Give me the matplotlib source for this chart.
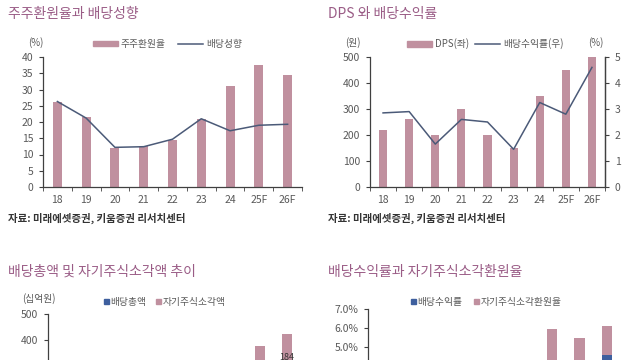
import matplotlib.pyplot as plt
import numpy as np
from matplotlib.patches import Rectangle
from matplotlib.lines import Line2D

plt.rcParams['font.family'] = ['Noto Sans CJK KR', 'DejaVu Sans']

# 데이터
years = ['18', '19', '20', '21', '22', '23', '24', '25F', '26F']
return_ratio = [26.2, 21.5, 12.0, 12.5, 14.5, 21.0, 31.2, 37.5, 34.5]   # 주주환원율
payout_ratio = [26.3, 21.2, 12.2, 12.4, 14.7, 21.0, 17.3, 19.0, 19.3]   # 배당성향
dps = [220, 260, 200, 300, 200, 150, 350, 450, 500]                     # DPS(원)
div_yield = [2.85, 2.9, 1.65, 2.6, 2.5, 1.45, 3.25, 2.8, 4.6]           # 배당수익률(%)
div_total = [150, 170, 130, 190, 130, 100, 200, 220, 239]               # 배당총액(십억원)
buyback = [0, 50, 0, 50, 0, 60, 110, 157, 184]                         # 자기주식소각액
buyback_ratio = [0.0, 0.6, 0.0, 0.7, 0.0, 0.9, 2.7, 2.7, 1.5]           # 자기주식소각환원율(%)

W, H = 640, 360
bar_c = '#c0909f'
line_c = '#4b5a78'
blue_c = '#3e5f9e'
title_c = '#9a5c86'
tick_c = '#595959'
spine_c = '#404040'
x = np.arange(len(years))

fig = plt.figure(figsize=(6.4, 3.6), dpi=100)


def add_ax(left, right, top, bottom):
    return fig.add_axes([left / W, (H - bottom) / H, (right - left) / W, (bottom - top) / H])


def style(ax, right_spine=False):
    ax.spines['top'].set_visible(False)
    ax.spines['right'].set_visible(right_spine)
    for s in ['left', 'bottom', 'right']:
        ax.spines[s].set_color(spine_c)
        ax.spines[s].set_linewidth(0.9)
    ax.tick_params(axis='y', direction='out', length=3, color=spine_c, labelsize=7.5, labelcolor=tick_c, pad=4)
    ax.tick_params(axis='x', which='major', length=0, labelsize=7.5, labelcolor=tick_c, pad=6)
    ax.set_xticks(x)
    ax.set_xticklabels(years)
    ax.set_xticks(np.arange(-0.5, len(years), 1), minor=True)
    ax.tick_params(axis='x', which='minor', direction='out', length=3, color=spine_c)


def px(xp, yp, s, **kw):
    fig.text(xp / W, (H - yp) / H, s, **kw)


# 주주환원율과 배당성향
px(8, 14, '주주환원율과 배당성향', fontsize=10, color=title_c, va='center')
ax1 = add_ax(43, 302, 57, 187)
ax1.bar(x, return_ratio, width=0.31, color=bar_c)
ax1.plot(x, payout_ratio, color=line_c, lw=1.1)
ax1.set_xlim(-0.5, len(years) - 0.5)
ax1.set_ylim(0, 40)
ax1.set_yticks(range(0, 41, 5))
style(ax1)
px(28, 43, '(%)', fontsize=7, color=tick_c, va='center')
fig.legend([Rectangle((0, 0), 1, 1, color=bar_c), Line2D([], [], color=line_c, lw=1.1)],
           ['주주환원율', '배당성향'], loc='center left', bbox_to_anchor=(84 / W, (H - 44) / H),
           ncol=2, frameon=False, fontsize=7, handlelength=2.6, handleheight=0.5,
           handletextpad=0.3, columnspacing=1.2, labelcolor=tick_c)
px(8, 218, '자료: 미래에셋증권, 키움증권 리서치센터', fontsize=7.5, color='#333333', va='center', fontweight='bold')

# DPS 와 배당수익률
px(328, 14, 'DPS 와 배당수익률', fontsize=10, color=title_c, va='center')
ax2 = add_ax(370, 605, 57, 187)
ax2.bar(x, dps, width=0.31, color=bar_c)
ax2.set_xlim(-0.5, len(years) - 0.5)
ax2.set_ylim(0, 500)
ax2.set_yticks(range(0, 501, 100))
style(ax2, right_spine=True)
ax2b = ax2.twinx()
ax2b.plot(x, div_yield, color=line_c, lw=1.1)
ax2b.set_ylim(0, 5)
ax2b.set_yticks(range(0, 6))
for s in ['top', 'left', 'bottom']:
    ax2b.spines[s].set_visible(False)
ax2b.spines['right'].set_color(spine_c)
ax2b.spines['right'].set_linewidth(0.9)
ax2b.tick_params(axis='y', direction='out', length=3, color=spine_c, labelsize=7.5, labelcolor=tick_c, pad=4)
px(345, 43, '(원)', fontsize=7, color=tick_c, va='center')
px(588, 43, '(%)', fontsize=7, color=tick_c, va='center')
fig.legend([Rectangle((0, 0), 1, 1, color=bar_c), Line2D([], [], color=line_c, lw=1.1)],
           ['DPS(좌)', '배당수익률(우)'], loc='center left', bbox_to_anchor=(398 / W, (H - 44) / H),
           ncol=2, frameon=False, fontsize=7, handlelength=2.6, handleheight=0.5,
           handletextpad=0.3, columnspacing=0.6, labelcolor=tick_c)
px(328, 218, '자료: 미래에셋증권, 키움증권 리서치센터', fontsize=7.5, color='#333333', va='center', fontweight='bold')

# 배당총액 및 자기주식소각액 추이 (아래쪽은 그림 밖으로 잘림)
px(8, 272, '배당총액 및 자기주식소각액 추이', fontsize=10, color=title_c, va='center')
ax3 = add_ax(48, 310, 314, 444)
ax3.bar(x, div_total, width=0.4, color=blue_c)
ax3.bar(x, buyback, width=0.4, bottom=div_total, color=bar_c)
ax3.text(x[-1], div_total[-1] + buyback[-1] / 2, str(buyback[-1]), ha='center', va='center',
         fontsize=6.5, color='#333333')
ax3.set_xlim(-0.85, 8.85)
ax3.set_ylim(0, 500)
ax3.set_yticks(range(0, 501, 100))
style(ax3)
ax3.tick_params(axis='x', labelbottom=False)
px(22, 299, '(십억원)', fontsize=7, color=tick_c, va='center')
fig.legend([Rectangle((0, 0), 1, 1, color=blue_c), Rectangle((0, 0), 1, 1, color=bar_c)],
           ['배당총액', '자기주식소각액'], loc='center left', bbox_to_anchor=(95 / W, (H - 302) / H),
           ncol=2, frameon=False, fontsize=7, handlelength=0.5, handleheight=0.5,
           handletextpad=0.2, columnspacing=1.0, labelcolor=tick_c)

# 배당수익률과 자기주식소각환원율
px(328, 272, '배당수익률과 자기주식소각환원율', fontsize=10, color=title_c, va='center')
ax4 = add_ax(368, 626, 309, 442)
ax4.bar(x, div_yield, width=0.37, color=blue_c)
ax4.bar(x, buyback_ratio, width=0.37, bottom=div_yield, color=bar_c)
ax4.set_xlim(-0.69, 8.69)
ax4.set_ylim(0, 7)
ax4.set_yticks(np.arange(0, 7.1, 1))
ax4.set_yticklabels([f'{v:.1f}%' for v in np.arange(0, 7.1, 1)])
style(ax4)
ax4.tick_params(axis='x', labelbottom=False)
fig.legend([Rectangle((0, 0), 1, 1, color=blue_c), Rectangle((0, 0), 1, 1, color=bar_c)],
           ['배당수익률', '자기주식소각환원율'], loc='center left', bbox_to_anchor=(402 / W, (H - 302) / H),
           ncol=2, frameon=False, fontsize=7, handlelength=0.5, handleheight=0.5,
           handletextpad=0.2, columnspacing=1.2, labelcolor=tick_c)

fig.savefig('out.png', dpi=100)
